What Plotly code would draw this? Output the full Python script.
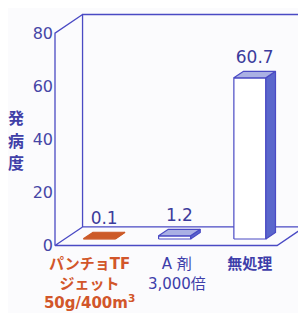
import plotly.graph_objects as go

# ---- data ----
categories = ["パンチョTF<br>ジェット<br>50g/400m<sup>3</sup>", "A 剤<br>3,000倍", "無処理"]
values = [0.1, 1.2, 60.7]
value_labels = ["0.1", "1.2", "60.7"]
y_ticks = [0, 20, 40, 60, 80]
y_title_chars = ["発", "病", "度"]

# ---- styling ----
BLUE = "#4a4ac4"
TXT_BLUE = "#4646a6"
ORANGE = "#d2562a"
label_colors = [ORANGE, "#3e3eaa", "#3e3eaa"]
label_bold = [True, False, True]
label_shift = [-0.13, 0.03, 0.0]

top_col = ["#cc5a28", "#aab0e4", "#aab0e4"]
front_col = ["#cc5a28", "#ffffff", "#ffffff"]
side_col = ["#b44c22", "#5a66cc", "#5a66cc"]
edge_col = ["#cc5a28", BLUE, BLUE]

# projection (depth vector in data units)
DX, DY = 0.366, 7.0
F0, F1 = 0.35, 0.70     # bar front/back depth fraction
W = 0.425               # bar width in category units
XL, XR = -0.461, 2.49   # front floor extents
YMAX = y_ticks[-1]

fig = go.Figure()

def line(xs, ys):
    fig.add_trace(go.Scatter(x=xs, y=ys, mode="lines",
                             line=dict(color=BLUE, width=1.3),
                             hoverinfo="skip", showlegend=False))

# box frame
line([XL + DX, XL + DX, XR + DX, XR + DX, XL + DX], [DY, YMAX + DY, YMAX + DY, DY, DY])
line([XL, XL, XL + DX], [0, YMAX, YMAX + DY])
line([XL + DX, XL, XR, XR + DX], [DY, 0, 0, DY])

def poly(xs, ys, fill, edge):
    fig.add_trace(go.Scatter(x=xs + [xs[0]], y=ys + [ys[0]], mode="lines",
                             fill="toself", fillcolor=fill,
                             line=dict(color=edge, width=1.2),
                             hoverinfo="skip", showlegend=False))

for i, v in enumerate(values):
    x0 = i - W / 2 + F0 * DX
    x1 = i + W / 2 + F0 * DX
    yb = F0 * DY
    yt = v + F0 * DY
    ddx = (F1 - F0) * DX
    ddy = (F1 - F0) * DY
    poly([x0, x1, x1, x0], [yb, yb, yt, yt], front_col[i], edge_col[i])
    poly([x1, x1 + ddx, x1 + ddx, x1], [yb, yb + ddy, yt + ddy, yt], side_col[i], edge_col[i])
    poly([x0, x1, x1 + ddx, x0 + ddx], [yt, yt, yt + ddy, yt + ddy], top_col[i], edge_col[i])

# value labels
fig.add_trace(go.Scatter(
    x=[i + (F0 + F1) / 2 * DX for i in range(len(values))],
    y=[v + F1 * DY + 1.5 for v in values],
    mode="text", text=value_labels, textposition="top center",
    textfont=dict(family="DejaVu Sans", size=17, color="#3c3c9c"),
    hoverinfo="skip", showlegend=False, cliponaxis=False))

ticktext = []
for c, col, b in zip(categories, label_colors, label_bold):
    t = f"<span style='color:{col}'>{c}</span>"
    if b:
        t = f"<b>{t}</b>"
    ticktext.append(t)

# page offset of the plot div (body margin) is 8px; layout compensates
annotations = []
for k, ch in enumerate(y_title_chars):
    annotations.append(dict(text=f"<b>{ch}</b>", xref="paper", yref="paper",
                            x=(15.5 - 48) / 258, y=1 - (117 + 22.5 * k - 8) / 242,
                            showarrow=False, xanchor="center", yanchor="middle",
                            font=dict(family="Noto Sans CJK JP", size=16, color="#4040a8")))

fig.update_layout(
    width=306, height=313,
    margin=dict(l=40, r=8, t=0, b=71, autoexpand=False),
    paper_bgcolor="#fbfbfd", plot_bgcolor="rgba(0,0,0,0)",
    font=dict(family="DejaVu Sans, Noto Sans CJK JP", size=16, color=TXT_BLUE),
    xaxis=dict(range=[-0.554, 2.874], showgrid=False, zeroline=False, showline=False,
               tickvals=[i + F0 * DX + s for i, s in enumerate(label_shift)],
               ticktext=ticktext, ticks="", fixedrange=True, automargin=False,
               ticklabelstandoff=3,
               tickfont=dict(family="DejaVu Sans, Noto Sans CJK JP", size=15)),
    yaxis=dict(range=[-4.5 / 2.655, (245.5 - 8) / 2.655], showgrid=False, zeroline=False,
               showline=False, tickvals=y_ticks, ticks="", automargin=False,
               ticklabelstandoff=-6,
               tickfont=dict(family="DejaVu Sans", size=16, color=TXT_BLUE),
               fixedrange=True),
    annotations=annotations,
    showlegend=False,
)

fig.write_html("out.html")
